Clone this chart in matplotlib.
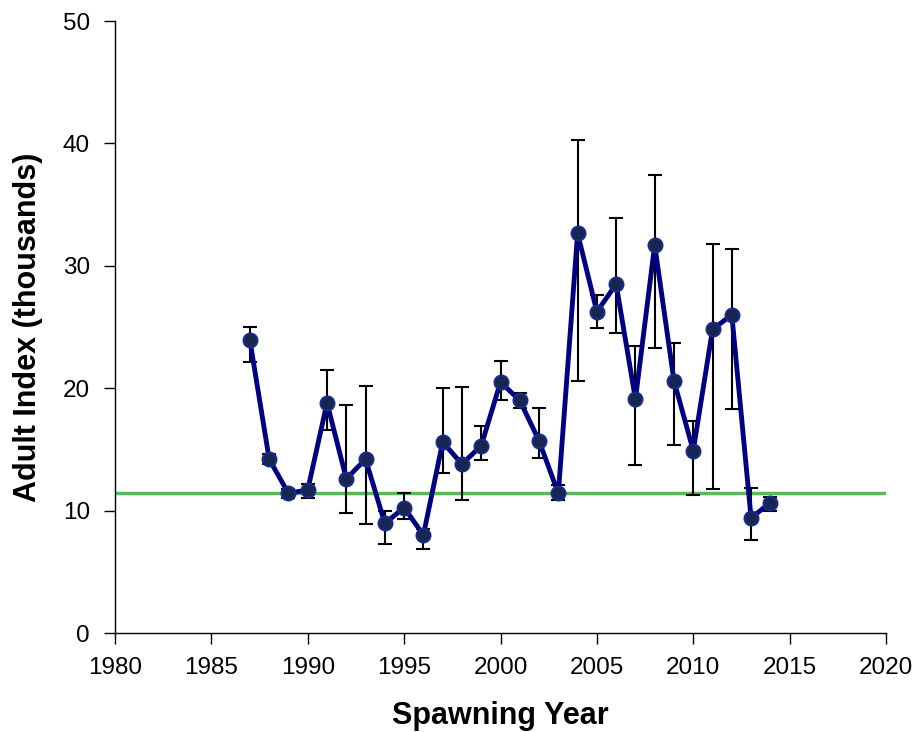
import matplotlib
matplotlib.use("Agg")
import matplotlib.pyplot as plt

years = list(range(1987, 2015))
index = [23.9, 14.2, 11.4, 11.7, 18.8, 12.6, 14.2, 8.95, 10.25, 8.0,
         15.6, 13.8, 15.3, 20.5, 19.0, 15.7, 11.4, 32.65, 26.25, 28.5,
         19.1, 31.7, 20.6, 14.9, 24.8, 26.0, 9.4, 10.65]
upper = [25.0, 14.6, 11.8, 12.2, 21.5, 18.6, 20.2, 10.0, 11.4, 8.5,
         20.0, 20.1, 16.9, 22.2, 19.6, 18.4, 12.1, 40.3, 27.65, 33.9,
         23.45, 37.4, 23.7, 17.3, 31.8, 31.35, 11.85, 11.1]
lower = [22.1, 13.8, 11.0, 11.0, 16.6, 9.8, 8.9, 7.3, 9.3, 6.9,
         13.1, 10.9, 14.1, 19.0, 18.4, 14.3, 10.9, 20.6, 24.9, 24.5,
         13.7, 23.3, 15.4, 11.3, 11.8, 18.3, 7.6, 10.0]
reference_level = 11.4

plt.rcParams['font.family'] = ['Liberation Sans', 'DejaVu Sans']
fig = plt.figure(figsize=(9.17, 7.32), dpi=100)
ax = fig.add_axes([115/917, 1 - 633/732, (886-115)/917, (633-21)/732])

ax.axhline(reference_level, color='#5cb85c', lw=2.5, zorder=1)
yerr = [[i - l for i, l in zip(index, lower)], [u - i for i, u in zip(index, upper)]]
ax.errorbar(years, index, yerr=yerr, fmt='none', ecolor='black', elinewidth=1.5,
            capsize=5, capthick=1.5, zorder=2)
ax.plot(years, index, color='#000080', lw=3.5, marker='o', markersize=10,
        markerfacecolor='#16264f', markeredgecolor='#1a2a8a', markeredgewidth=1.5, zorder=3)

ax.set_xlim(1980, 2020)
ax.set_ylim(0, 50)
ax.set_xticks(range(1980, 2021, 5))
ax.set_yticks(range(0, 51, 10))
for s in ['top', 'right']:
    ax.spines[s].set_visible(False)
ax.spines['left'].set_linewidth(1.0)
ax.spines['bottom'].set_linewidth(1.0)
ax.tick_params(direction='out', length=8, width=1, labelsize=17.5)
ax.tick_params(axis='x', pad=9)
ax.tick_params(axis='y', pad=10)
ax.set_xlabel('Spawning Year', fontsize=22, fontweight='bold', labelpad=16)
ax.set_ylabel('Adult Index (thousands)', fontsize=22, fontweight='bold', labelpad=14)

fig.savefig('out.png', dpi=100)
